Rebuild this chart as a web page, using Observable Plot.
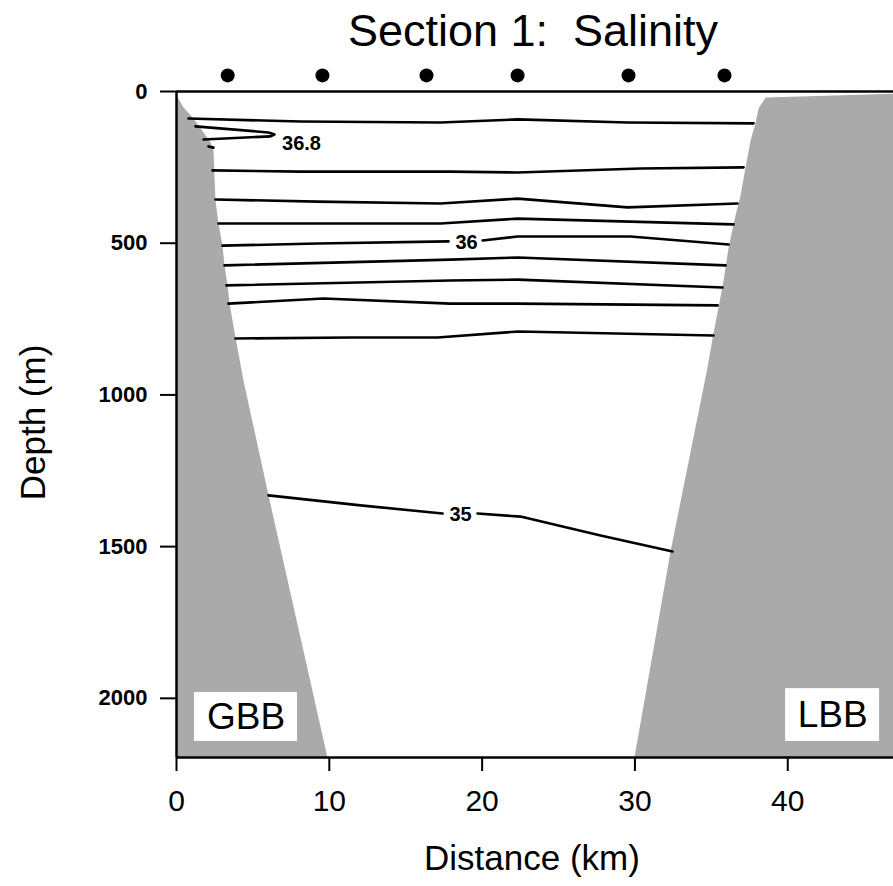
<!DOCTYPE html>
<html><head><meta charset="utf-8">
<script src="https://cdn.jsdelivr.net/npm/d3@7"></script>
<script src="https://cdn.jsdelivr.net/npm/@observablehq/plot@0.6"></script>
<style>
body{margin:0;background:#fff;}
svg{display:block;}
</style></head><body><div id="chart"></div>
<script>
// ---- texts and ticks ----
const title = "Section 1:  Salinity";
const xLabel = "Distance (km)";
const yLabel = "Depth (m)";
const xTicks = [0, 10, 20, 30, 40];
const yTicks = [0, 500, 1000, 1500, 2000];
const xMax = 46.92;
const yMax = 2195;

// ---- CTD stations (km), shown above the surface ----
const stationKm = [3.35, 9.55, 16.36, 22.32, 29.58, 35.86];
const stationDepth = -53;

// ---- bathymetry [km, depth m] ----
const gbbBottom = [[0, 2195], [0, 13], [0.46, 53], [1.11, 89], [1.77, 135], [2.23, 168], [2.42, 194],
  [2.55, 359], [2.75, 435], [3.01, 508], [3.14, 573], [3.34, 639], [3.47, 699], [3.86, 811],
  [4.38, 952], [6.02, 1331], [9.88, 2195]];
const lbbBottom = [[46.92, 7], [38.55, 20], [38.09, 56], [37.89, 105], [37.57, 161], [37.24, 250],
  [36.91, 343], [36.58, 409], [36.13, 514], [35.80, 623], [35.47, 712], [35.14, 797], [34.75, 910],
  [32.33, 1516], [29.97, 2195], [46.92, 2195]];

// ---- salinity isolines [km, depth m] ----
const iso1 = [[0.79, 89], [8.12, 99], [17.28, 102], [22.32, 92], [29.52, 102], [37.76, 105]];
const iso368 = [[1.24, 115], [6.02, 135], [6.41, 142], [6.15, 148], [1.77, 158]];
const isoStub = [[2.09, 181], [2.42, 185]];
const iso2 = [[2.36, 260], [8.12, 264], [17.93, 264], [22.32, 267], [30.37, 254], [37.11, 250]];
const iso3 = [[2.55, 356], [9.23, 363], [17.28, 369], [22.32, 353], [29.52, 382], [36.71, 369]];
const iso4 = [[2.75, 435], [9.23, 435], [17.28, 435], [22.32, 419], [36.45, 438]];
const iso36a = [[3.01, 508], [9.23, 501], [17.80, 494]];
const iso36b = [[20.03, 491], [22.32, 478], [29.71, 478], [36.13, 504]];
const iso5 = [[3.14, 573], [17.93, 554], [22.32, 547], [35.93, 573]];
const iso6 = [[3.27, 639], [17.93, 623], [22.32, 620], [35.73, 646]];
const iso7 = [[3.40, 699], [9.62, 682], [17.93, 699], [22.32, 699], [35.41, 705]];
const iso8 = [[3.86, 814], [11.39, 811], [17.08, 811], [22.38, 791], [35.14, 804]];
const iso35a = [[6.02, 1331], [12.04, 1364], [17.41, 1391]];
const iso35b = [[19.70, 1391], [22.51, 1401], [27.75, 1463], [32.46, 1516]];

const isolineSet = {iso1, iso368, isoStub, iso2, iso3, iso4, iso36a, iso36b, iso5, iso6, iso7, iso8, iso35a, iso35b};
const isoRows = Object.entries(isolineSet).flatMap(([id, pts]) => pts.map(([km, depth]) => ({id, km, depth})));

// ---- isoline labels ----
const labelText = ["36.8", "36", "35"];
const labelKm = [8.18, 18.98, 18.59];
const labelDepth = [171, 498, 1394];
const labels = labelText.map((t, i) => ({t, km: labelKm[i], depth: labelDepth[i]}));

// ---- bank name boxes ----
const bankNames = ["GBB", "LBB"];
const bankBoxKm1 = [1.18, 39.86];
const bankBoxKm2 = [7.92, 46.01];
const bankBoxD1 = [1981, 1968];
const bankBoxD2 = [2142, 2142];
const banks = bankNames.map((n, i) => ({n, x1: bankBoxKm1[i], x2: bankBoxKm2[i], y1: bankBoxD1[i], y2: bankBoxD2[i],
  xc: (bankBoxKm1[i] + bankBoxKm2[i]) / 2, yc: (bankBoxD1[i] + bankBoxD2[i]) / 2}));

const font = "'Liberation Sans', Arial, Helvetica, sans-serif";

const svg = Plot.plot({
  width: 893,
  height: 886,
  marginLeft: 176,
  marginRight: 0,
  marginTop: 91,
  marginBottom: 129,
  style: {fontFamily: font, background: "white", color: "black"},
  x: {domain: [0, xMax]},
  y: {domain: [0, yMax], reverse: true},
  marks: [
    Plot.line(gbbBottom, {x: d => d[0], y: d => d[1], fill: "url(#stipple)", stroke: "none"}),
    Plot.line(lbbBottom, {x: d => d[0], y: d => d[1], fill: "url(#stipple)", stroke: "none"}),
    Plot.rect(banks, {x1: "x1", x2: "x2", y1: "y1", y2: "y2", fill: "white"}),
    Plot.text(banks, {x: "xc", y: "yc", text: "n", fontSize: 37, fill: "black"}),
    Plot.line(isoRows, {x: "km", y: "depth", z: "id", stroke: "black", strokeWidth: 2.6, curve: "linear"}),
    Plot.text(labels, {x: "km", y: "depth", text: "t", fontSize: 20, fontWeight: "bold", fill: "black"}),
    Plot.dot(stationKm, {x: d => d, y: () => stationDepth, r: 7, fill: "black", stroke: "none"}),
    Plot.ruleY([0], {strokeWidth: 2.5}),
    Plot.ruleY([yMax], {strokeWidth: 2.5}),
    Plot.ruleX([0], {strokeWidth: 2.5}),
    Plot.axisY({ticks: yTicks, tickFormat: d => String(d), tickSize: 16, tickPadding: 13, fontSize: 22, fontWeight: "bold", strokeWidth: 2, label: null}),
    Plot.axisX({ticks: xTicks, tickFormat: d => String(d), tickSize: 14, tickPadding: 18, fontSize: 30, strokeWidth: 2, label: null}),
    Plot.text([title], {frameAnchor: "top", lineAnchor: "middle", textAnchor: "middle", dy: -60, dx: -2, fontSize: 45, fill: "black"}),
    Plot.text([xLabel], {frameAnchor: "bottom", lineAnchor: "middle", textAnchor: "middle", dy: 101, dx: -3, fontSize: 35, fill: "black"}),
    Plot.text([yLabel], {frameAnchor: "left", lineAnchor: "middle", textAnchor: "middle", dx: -143, dy: -2, rotate: -90, fontSize: 35, fill: "black"})
  ]
});

const ns = "http://www.w3.org/2000/svg";
const defs = document.createElementNS(ns, "defs");
defs.innerHTML = '<pattern id="stipple" width="2" height="2" patternUnits="userSpaceOnUse">' +
  '<rect width="2" height="2" fill="#e6e6e6"/><rect width="1" height="1" fill="#6e6e6e"/>' +
  '<rect x="1" y="1" width="1" height="1" fill="#6e6e6e"/></pattern>';
svg.insertBefore(defs, svg.firstChild);
document.getElementById("chart").appendChild(svg);
</script>
</body></html>
